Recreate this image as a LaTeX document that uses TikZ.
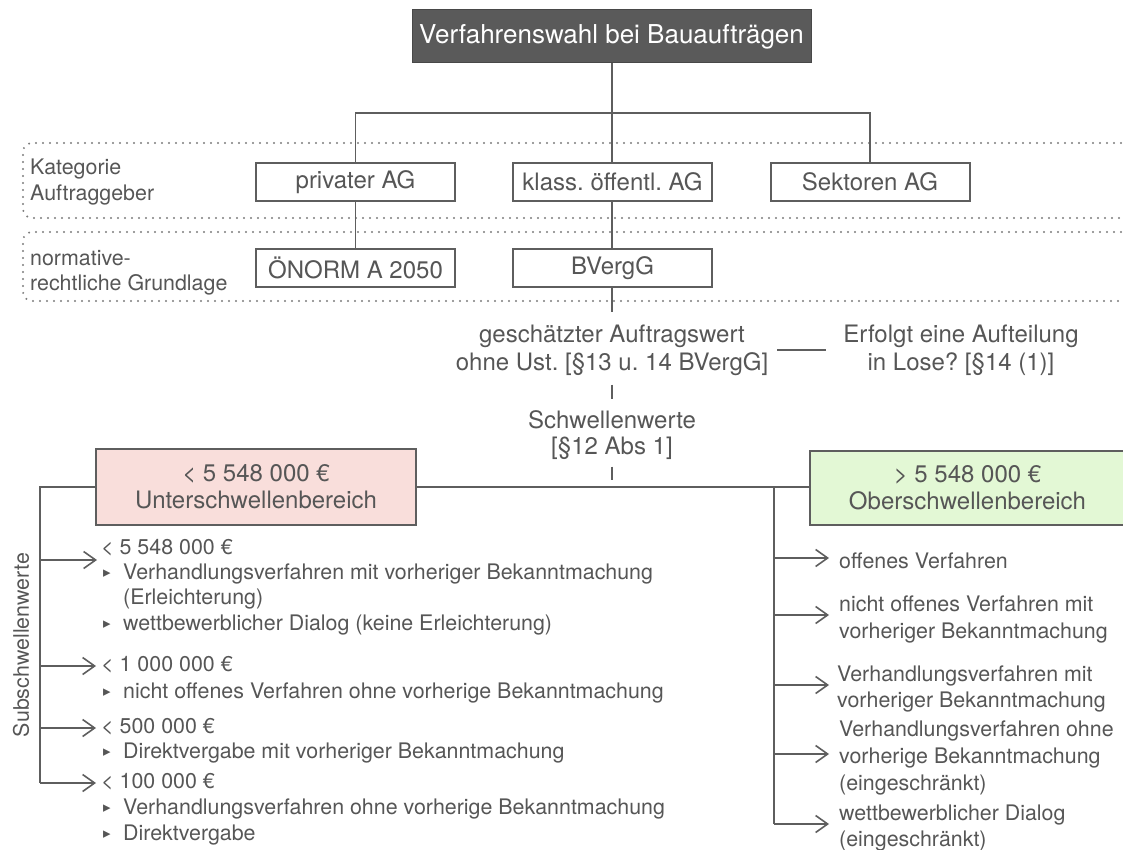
\documentclass[tikz,border=0pt]{standalone}
\usepackage{fontspec}
\setmainfont{TeX Gyre Heros}
\newfontfamily\symfont{DejaVu Sans}
\usetikzlibrary{arrows.meta,backgrounds,calc}

\definecolor{ink}{HTML}{565656}
\definecolor{edge}{HTML}{5E5E5E}
\definecolor{titlefill}{HTML}{5A5A5A}
\definecolor{pinkfill}{HTML}{F9DEDB}
\definecolor{greenfill}{HTML}{E3F8D5}
\definecolor{dotcol}{HTML}{7C7C7C}

\newcommand{\bul}{{\symfont\fontsize{15}{15}\selectfont ▸}}
\frenchspacing

\begin{document}
\begin{tikzpicture}[x=1pt,y=-1pt,
  every node/.style={text=ink, font=\fontsize{21.4}{26}\selectfont, inner sep=0pt},
  big/.style={font=\fontsize{24}{27}\selectfont},
  box/.style={big, draw=edge, line width=2pt, fill=white, minimum height=38pt, minimum width=199pt},
  conn/.style={draw=edge, line width=1.6pt},
  arr/.style={conn, -{Straight Barb[length=12pt,width=17pt,line width=1.6pt]}},
  dotline/.style={draw=dotcol, line width=2.2pt, line cap=round,
                  dash pattern=on 0pt off 7pt, rounded corners=9pt},
  txt/.style={anchor=base west},
  bulnode/.style={anchor=base west, text=ink},
  twoline/.style={align=center, font=\fontsize{24}{28}\selectfont}
]
\useasboundingbox (0,0) rectangle (1123,850);
\clip (0,0) rectangle (1123,850);

% dotted bands for the two classification rows
\draw[dotline] (1121,143) -- (23,143) -- (23,218) -- (1121,218);
\draw[dotline] (1121,232) -- (23,232) -- (23,301) -- (1121,301);

\node[anchor=base west] (katA) at (30,175) {Kategorie};
\node[anchor=base west] (katB) at (30,201) {Auftraggeber};
\node[anchor=base west] (normA) at (30,265) {normative-};
\node[anchor=base west] (normB) at (30,290) {rechtliche Grundlage};

% title
\node[fill=titlefill, draw=titlefill!80!black, line width=1pt, text=white,
      font=\fontsize{26}{30}\selectfont, minimum width=399pt, minimum height=53pt]
      (title) at (611.5,36.5) {Verfahrenswahl bei Bauaufträgen};

% client categories and legal basis
\node[box] (priv)  at (355.5,182) {privater AG};
\node[box] (kl)    at (612.5,182) {klass. öffentl. AG};
\node[box] (sek)   at (870,182)   {Sektoren AG};
\node[box] (onorm) at (355.5,268) {ÖNORM A 2050};
\node[box] (bv)    at (612.5,268) {BVergG};

\coordinate (hub) at (612,113);
\draw[conn] (title.south -| hub) -- (hub);
\draw[conn] (priv.north) -- (priv.north |- hub) -- (sek.north |- hub) -- (sek.north);
\draw[conn] (hub) -- (kl.north -| hub);
\draw[conn] (priv.south) -- (onorm.north);
\draw[conn] (kl.south -| hub) -- (bv.north -| hub);

% estimated contract value and thresholds
\node[twoline] (schaetz) at (612,350) {geschätzter Auftragswert\\ohne Ust. {[}§13 u. 14 BVergG{]}};
\node[twoline] (lose) at (961,350) {Erfolgt eine Aufteilung\\in Lose? {[}§14 (1){]}};
\node[align=center, font=\fontsize{24}{26}\selectfont] (schwell) at (612,435) {Schwellenwerte\\{}{[}§12 Abs 1{]}};

\coordinate (mid) at (612,487);
\draw[conn, shorten >=12pt] (bv.south -| hub) -- (schaetz.north -| hub);
\draw[conn, shorten <=9pt, shorten >=17pt] (schaetz.east) -- (schaetz.east -| lose.west);
\draw[conn, shorten <=9pt, shorten >=11pt] (schaetz.south -| hub) -- (schwell.north -| hub);
\draw[conn, shorten <=7pt, shorten >=7pt] (schwell.south -| hub) -- (mid);

% lower and upper threshold range
\node[box, fill=pinkfill, minimum width=320pt, minimum height=76pt, align=center]
      (unter) at (256,487) {< 5 548 000 €\\Unterschwellenbereich};
\node[big, minimum width=315pt, minimum height=74pt, align=center]
      (ober) at (967.5,488) {> 5 548 000 €\\Oberschwellenbereich};
\begin{scope}[on background layer]
  \draw[draw=edge, line width=2pt, fill=greenfill]
       (ober.north west) rectangle ([xshift=40pt]ober.south east);
\end{scope}
\draw[conn] (unter.east) -- (unter.east -| ober.west);

% sub-threshold values
\node[rotate=90] (subs) at (21,645) {Subschwellenwerte};
\coordinate (ltop) at (40,487);
\coordinate (lbot) at (40,783);
\draw[conn] (unter.west) -- (ltop) -- (lbot);

\node[txt] (u1) at (101,554) {< 5 548 000 €};
\node[bulnode] (u1b1) at (103,577) {\bul};
\node[txt] (u1t1) at (123,579) {Verhandlungsverfahren mit vorheriger Bekanntmachung};
\node[txt] (u1t2) at (123,604) {(Erleichterung)};
\node[bulnode] (u1b2) at (103,628) {\bul};
\node[txt] (u1t3) at (123,630) {wettbewerblicher Dialog (keine Erleichterung)};

\node[txt] (u2) at (101,671) {< 1 000 000 €};
\node[bulnode] (u2b1) at (103,696) {\bul};
\node[txt] (u2t1) at (123,698) {nicht offenes Verfahren ohne vorherige Bekanntmachung};

\node[txt] (u3) at (101,733) {< 500 000 €};
\node[bulnode] (u3b1) at (103,756) {\bul};
\node[txt] (u3t1) at (123,758) {Direktvergabe mit vorheriger Bekanntmachung};

\node[txt] (u4) at (101,788) {< 100 000 €};
\node[bulnode] (u4b1) at (103,812) {\bul};
\node[txt] (u4t1) at (123,814) {Verhandlungsverfahren ohne vorherige Bekanntmachung};
\node[bulnode] (u4b2) at (103,838) {\bul};
\node[txt] (u4t2) at (123,840) {Direktvergabe};

\coordinate (la1) at (97,560);
\coordinate (la2) at (96,666);
\coordinate (la3) at (96,728);
\coordinate (la4) at (96,783);
\draw[arr] (la1 -| ltop) -- (la1);
\draw[arr] (la2 -| ltop) -- (la2);
\draw[arr] (la3 -| ltop) -- (la3);
\draw[arr] (lbot) -- (la4);

% procedures above the threshold
\coordinate (rtop) at (774,487);
\coordinate (rbot) at (774,824);
\draw[conn] (rtop) -- (rbot);

\node[txt] (o1) at (839,568) {offenes Verfahren};
\node[txt] (o2a) at (839,611) {nicht offenes Verfahren mit};
\node[txt] (o2b) at (839,638) {vorheriger Bekanntmachung};
\node[txt] (o3a) at (837,681) {Verhandlungsverfahren mit};
\node[txt] (o3b) at (837,707) {vorheriger Bekanntmachung};
\node[txt] (o4a) at (839,736) {Verhandlungsverfahren ohne};
\node[txt] (o4b) at (839,763) {vorherige Bekanntmachung};
\node[txt] (o4c) at (839,790) {(eingeschränkt)};
\node[txt] (o5a) at (839,820) {wettbewerblicher Dialog};
\node[txt] (o5b) at (839,846) {(eingeschränkt)};

\coordinate (ra1) at (829,558);
\coordinate (ra2) at (829,615);
\coordinate (ra3) at (829,685);
\coordinate (ra4) at (829,754);
\coordinate (ra5) at (829,824);
\draw[arr] (ra1 -| rtop) -- (ra1);
\draw[arr] (ra2 -| rtop) -- (ra2);
\draw[arr] (ra3 -| rtop) -- (ra3);
\draw[arr] (ra4 -| rtop) -- (ra4);
\draw[arr] (rbot) -- (ra5);
\end{tikzpicture}
\end{document}
